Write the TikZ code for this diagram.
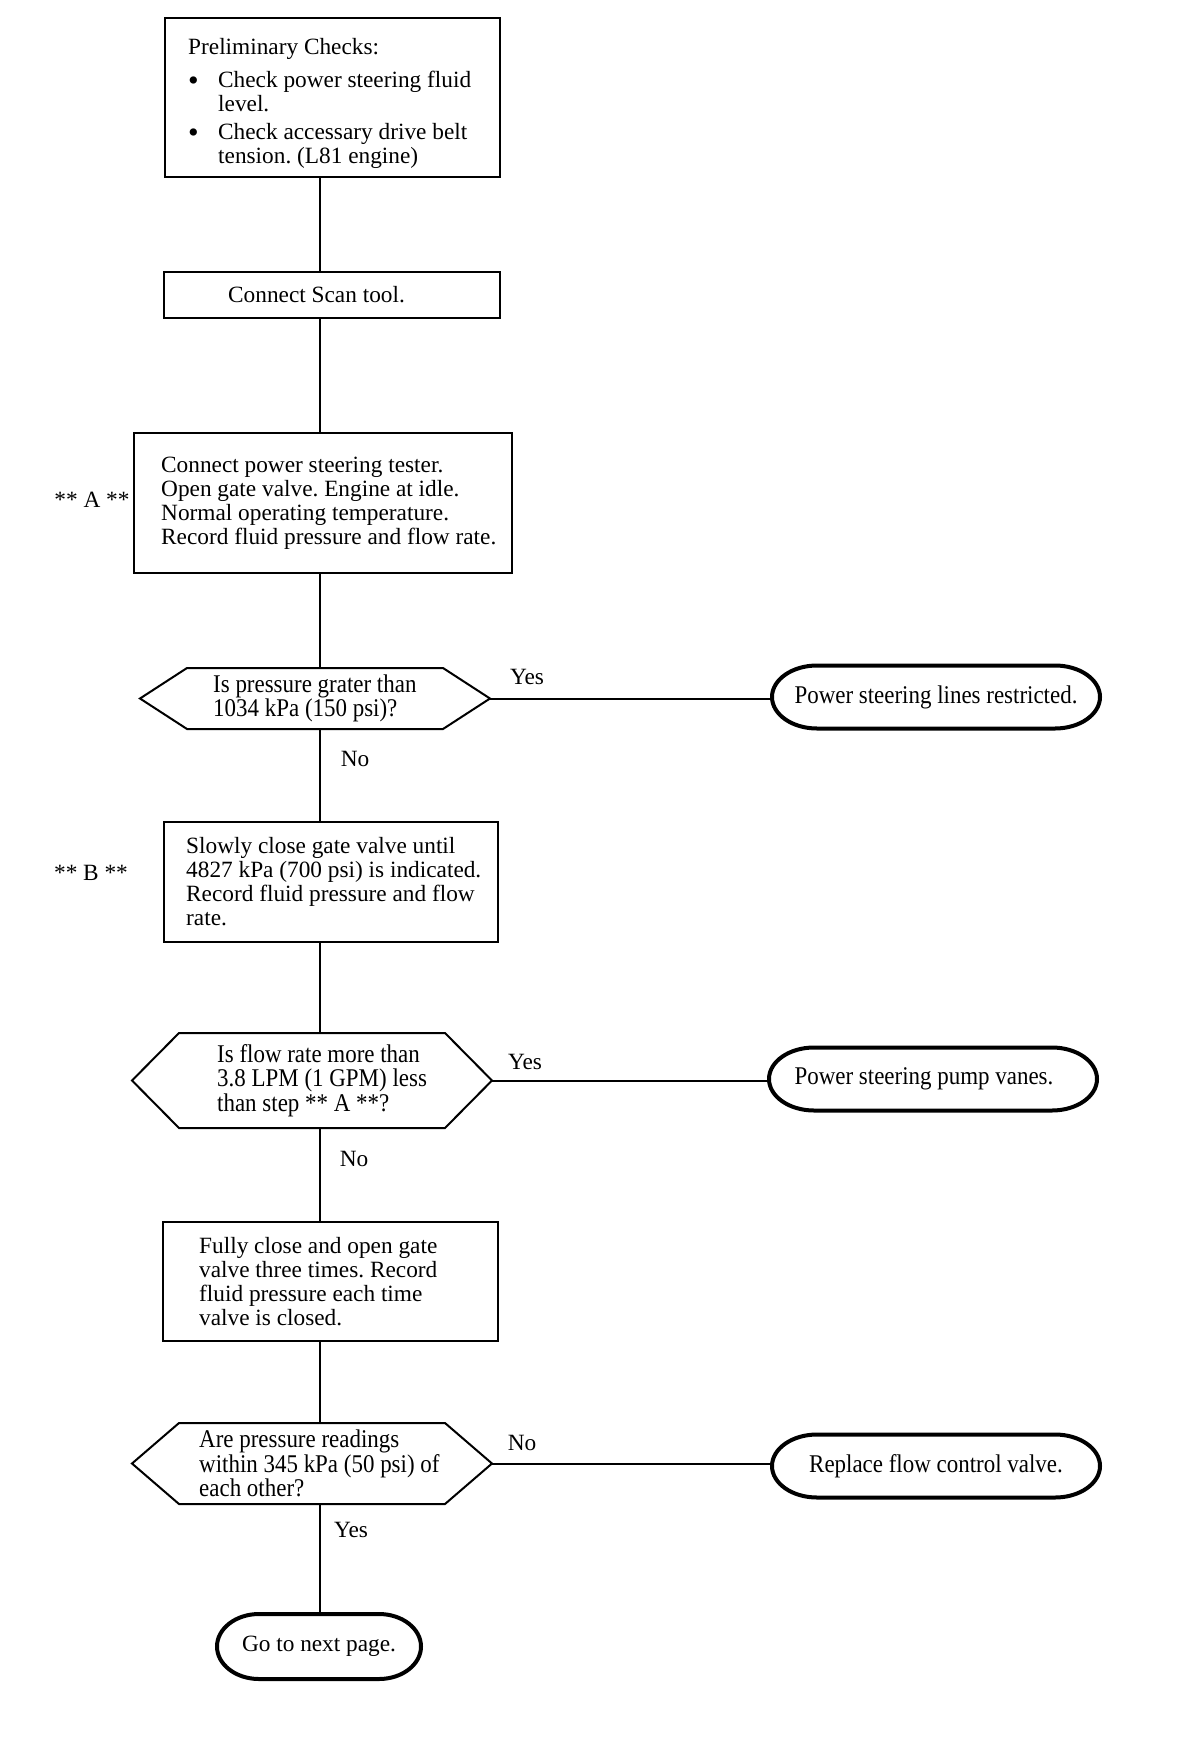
\documentclass[tikz,border=0pt]{standalone}
\usepackage{fontspec}
\setmainfont{Liberation Serif}
\newfontfamily\condfont{Liberation Serif}[FakeStretch=0.9]
\frenchspacing
\newcommand{\drawhex}[2]{\draw[hexline] (#1.west) -- ([xshift=#2]#1.north west) -- ([xshift=-#2]#1.north east) -- (#1.east) -- ([xshift=-#2]#1.south east) -- ([xshift=#2]#1.south west) -- cycle;}
\newcommand{\drawterm}[3]{\draw[termline] ([xshift=#2]#1.north west) -- ([xshift=-#2]#1.north east) arc[start angle=90, end angle=-90, x radius=#2, y radius=#3] -- ([xshift=#2]#1.south west) arc[start angle=270, end angle=90, x radius=#2, y radius=#3] -- cycle;}
\newcommand{\bigbul}{\makebox[30pt][l]{\hspace{0pt}\raisebox{-2.5pt}{\scalebox{1.3}{\textbullet}}}}
\tikzset{
  stepbox/.style={draw, line width=2pt, rectangle, inner sep=0pt, outer sep=0pt},
  txt/.style={align=left, inner sep=0pt, font=\frenchspacing\fontsize{23.3pt}{24pt}\selectfont},
  ctxt/.style={align=left, inner sep=0pt, font=\frenchspacing\condfont\fontsize{25.5pt}{24.5pt}\selectfont},
  hexbox/.style={rectangle, inner sep=0pt, outer sep=0pt},
  termbox/.style={rectangle, inner sep=0pt, outer sep=0pt, minimum width=328pt, minimum height=63pt, align=center, font=\frenchspacing\condfont\fontsize{25.5pt}{24.5pt}\selectfont},
  hexline/.style={line width=2pt, line join=miter},
  termline/.style={line width=4pt},
  conn/.style={line width=2pt},
}
\begin{document}
\begin{tikzpicture}[x=1pt,y=-1pt]
\fill[white] (0,0) rectangle (1184,1742);
\useasboundingbox (0,0) rectangle (1184,1742);
\coordinate (tx) at (320,0);

% boxes
\node[stepbox, minimum width=335pt, minimum height=159pt, anchor=north west] (b1) at (165,18) {};
\node[txt, anchor=west] (b1t) at ([xshift=23pt, yshift=-6pt]b1.west) {Preliminary Checks:\\[9pt]\bigbul Check power steering fluid\\\hspace*{30pt}level.\\[4pt]\bigbul Check accessary drive belt\\\hspace*{30pt}tension. (L81 engine)};

\node[stepbox, minimum width=336pt, minimum height=46pt, anchor=north west] (b2) at (164,272) {};
\node[txt, anchor=west] (b2t) at ([xshift=64pt]b2.west) {Connect Scan tool.};

\node[stepbox, minimum width=378pt, minimum height=140pt, anchor=north west] (b3) at (134,433) {};
\node[txt, anchor=west] (b3t) at ([xshift=27pt]b3.west) {Connect power steering tester.\\Open gate valve. Engine at idle.\\Normal operating temperature.\\Record fluid pressure and flow rate.};
\node[txt] (la) at (92,500) {** A **};

\node[stepbox, minimum width=334pt, minimum height=120pt, anchor=north west] (b4) at (164,822) {};
\node[txt, anchor=west] (b4t) at ([xshift=22pt]b4.west) {Slowly close gate valve until\\4827 kPa (700 psi) is indicated.\\Record fluid pressure and flow\\rate.};
\node[txt] (lb) at (91,873) {** B **};

\node[stepbox, minimum width=335pt, minimum height=119pt, anchor=north west] (b5) at (163,1222) {};
\node[txt, anchor=west] (b5t) at ([xshift=36pt]b5.west) {Fully close and open gate\\valve three times. Record\\fluid pressure each time\\valve is closed.};

% decisions
\node[hexbox, minimum width=350pt, minimum height=61pt] (h1) at (315,698.5) {};
\drawhex{h1}{47pt}
\node[ctxt, anchor=west] (h1t) at ([xshift=73pt]h1.west) {Is pressure grater than\\1034 kPa (150 psi)?};

\node[hexbox, minimum width=360pt, minimum height=95pt] (h2) at (312,1080.5) {};
\drawhex{h2}{47pt}
\node[ctxt, anchor=west] (h2t) at ([xshift=85pt]h2.west) {Is flow rate more than\\3.8 LPM (1 GPM) less\\than step ** A **?};

\node[hexbox, minimum width=360pt, minimum height=81pt] (h3) at (312,1463.5) {};
\drawhex{h3}{47pt}
\node[ctxt, anchor=west] (h3t) at ([xshift=67pt]h3.west) {Are pressure readings\\within 345 kPa (50 psi) of\\each other?};

% terminals
\node[termbox] (t1) at (936,697) {Power steering lines restricted.};
\drawterm{t1}{45pt}{31.5pt}
\node[termbox] (t2) at (933,1079) {Power steering pump vanes.\hspace*{18pt}};
\drawterm{t2}{45pt}{31.5pt}
\node[termbox] (t3) at (936,1466) {Replace flow control valve.};
\drawterm{t3}{45pt}{31.5pt}
\node[termbox, minimum width=204pt, minimum height=65pt, font=\fontsize{23.3pt}{24pt}\selectfont] (t4) at (319,1646.5) {Go to next page.};
\drawterm{t4}{42pt}{32.5pt}

% connectors
\draw[conn] (b1.south -| tx) -- (b2.north -| tx);
\draw[conn] (b2.south -| tx) -- (b3.north -| tx);
\draw[conn] (b3.south -| tx) -- (h1.north -| tx);
\draw[conn] (h1.south -| tx) -- (b4.north -| tx);
\draw[conn] (b4.south -| tx) -- (h2.north -| tx);
\draw[conn] (h2.south -| tx) -- (b5.north -| tx);
\draw[conn] (b5.south -| tx) -- (h3.north -| tx);
\draw[conn] (h3.south -| tx) -- (t4.north -| tx);
\draw[conn] (h1.east) -- (t1.west |- h1.east);
\draw[conn] (h2.east) -- (t2.west |- h2.east);
\draw[conn] (h3.east) -- (t3.west |- h3.east);

% branch labels
\node[txt] (y1) at (527,677) {Yes};
\node[txt] (n1) at (355,759) {No};
\node[txt] (y2) at (525,1062) {Yes};
\node[txt] (n2) at (354,1159) {No};
\node[txt] (n3) at (522,1443) {No};
\node[txt] (y3) at (351,1530) {Yes};
\end{tikzpicture}
\end{document}
